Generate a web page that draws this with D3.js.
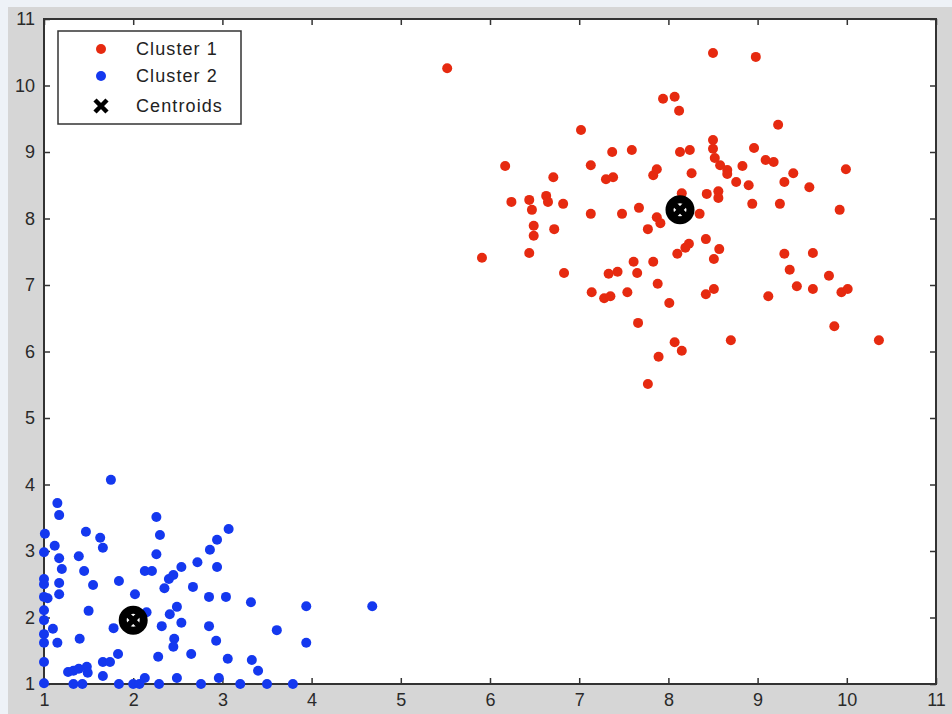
<!DOCTYPE html>
<html>
<head>
<meta charset="utf-8">
<script src="https://cdnjs.cloudflare.com/ajax/libs/d3/7.8.5/d3.min.js"></script>
<style>
  body { margin: 0; background: #eef2f7; }
  svg { display: block; }
</style>
</head>
<body>
<div id="chart"></div>
<script>
// data
var cluster1X = [5.52, 8.50, 8.98, 7.94, 8.07, 8.12, 7.02, 9.23, 8.50, 8.50,
                 7.37, 7.59, 8.13, 8.24, 8.96, 8.52, 8.58, 8.66, 8.66, 9.09,
                 9.18, 8.83, 8.26, 8.76, 8.90, 9.40, 9.30, 9.58, 9.99, 8.15,
                 8.43, 8.56, 8.56, 8.94, 9.25, 9.92, 8.35, 6.17, 7.13, 6.71,
                 7.30, 7.38, 7.83, 7.87, 6.24, 6.44, 6.47, 6.63, 6.65, 6.82,
                 7.13, 7.48, 7.67, 7.87, 7.91, 7.77, 6.49, 6.49, 6.72, 5.91,
                 6.44, 6.83, 7.33, 7.43, 7.61, 7.65, 7.83, 7.88, 7.14, 7.28,
                 7.35, 7.54, 8.01, 8.42, 8.51, 7.66, 8.07, 8.15, 7.89, 8.70,
                 7.77, 8.42, 8.57, 8.51, 8.23, 8.19, 8.10, 9.30, 9.62, 9.36,
                 9.80, 9.44, 9.62, 9.94, 10.01, 9.12, 9.86, 10.36];
var cluster1Y = [10.26, 10.49, 10.43, 9.80, 9.83, 9.62, 9.33, 9.41, 9.18, 9.05,
                 9.00, 9.03, 9.00, 9.03, 9.06, 8.91, 8.80, 8.73, 8.67, 8.88,
                 8.85, 8.79, 8.68, 8.55, 8.50, 8.68, 8.55, 8.47, 8.74, 8.38,
                 8.37, 8.41, 8.31, 8.22, 8.22, 8.13, 8.07, 8.79, 8.80, 8.62,
                 8.59, 8.62, 8.65, 8.74, 8.25, 8.28, 8.13, 8.34, 8.25, 8.22,
                 8.07, 8.07, 8.16, 8.02, 7.93, 7.84, 7.89, 7.74, 7.84, 7.41,
                 7.48, 7.18, 7.17, 7.20, 7.35, 7.18, 7.35, 7.02, 6.89, 6.80,
                 6.83, 6.89, 6.73, 6.86, 6.94, 6.43, 6.14, 6.01, 5.92, 6.17,
                 5.51, 7.69, 7.54, 7.39, 7.62, 7.56, 7.47, 7.47, 7.48, 7.23,
                 7.14, 6.98, 6.94, 6.89, 6.94, 6.83, 6.38, 6.17];

var cluster2X = [1.75, 1.15, 1.17, 1.01, 1.47, 1.63, 1.66, 1.12, 1.00, 1.17,
                 1.39, 1.20, 1.45, 1.00, 1.00, 1.17, 1.55, 1.84, 1.17, 1.00,
                 1.04, 2.02, 1.00, 1.50, 1.00, 1.10, 1.00, 1.78, 1.40, 1.00,
                 1.15, 1.00, 1.27, 1.33, 1.39, 1.48, 1.49, 1.66, 1.66, 1.74,
                 1.83, 1.00, 1.33, 1.43, 1.84, 2.00, 2.07, 2.13, 2.29, 2.15,
                 2.26, 2.30, 2.26, 2.13, 2.21, 2.35, 2.40, 2.45, 2.54, 2.72,
                 2.67, 2.85, 3.04, 2.86, 2.94, 3.07, 2.94, 2.49, 2.41, 2.32,
                 2.54, 2.85, 2.46, 2.45, 2.93, 2.28, 2.65, 3.06, 3.33, 3.40,
                 3.32, 3.94, 3.61, 3.94, 4.68, 2.49, 2.76, 2.96, 3.20, 3.50,
                 3.79];
var cluster2Y = [4.07, 3.72, 3.54, 3.26, 3.29, 3.20, 3.05, 3.08, 2.98, 2.89,
                 2.92, 2.73, 2.70, 2.58, 2.50, 2.52, 2.49, 2.55, 2.35, 2.31,
                 2.29, 2.35, 2.11, 2.10, 1.96, 1.83, 1.75, 1.84, 1.68, 1.62,
                 1.62, 1.33, 1.18, 1.20, 1.23, 1.26, 1.17, 1.12, 1.33, 1.33,
                 1.45, 1.01, 1.00, 1.00, 1.00, 1.00, 1.00, 1.09, 1.00, 2.08,
                 3.51, 3.24, 2.95, 2.70, 2.70, 2.44, 2.58, 2.64, 2.76, 2.83,
                 2.46, 2.31, 2.31, 3.02, 3.17, 3.33, 2.76, 2.16, 2.05, 1.87,
                 1.92, 1.87, 1.68, 1.56, 1.65, 1.41, 1.45, 1.38, 1.36, 1.20,
                 2.23, 2.17, 1.81, 1.62, 2.17, 1.09, 1.00, 1.09, 1.00, 1.00,
                 1.00];

var centroidX = [8.13, 2.00];
var centroidY = [8.13, 1.96];

var tickValues = [1, 2, 3, 4, 5, 6, 7, 8, 9, 10, 11];
var legendLabels = ["Cluster 1", "Cluster 2", "Centroids"];

var width = 952;
var height = 714;
var red = "#e62a10";
var blue = "#1438ef";

var svg = d3.select("#chart")
            .append("svg")
            .attr("width", width)
            .attr("height", height);

// figure background (grey panel)
svg.append("rect")
   .attr("x", 8)
   .attr("y", 7)
   .attr("width", width - 8)
   .attr("height", height - 7)
   .attr("fill", "#d6d6d6");

var x = d3.scaleLinear().domain([1, 11]).range([44, 936]);
var y = d3.scaleLinear().domain([1, 11]).range([684, 19]);

// plot area
svg.append("rect")
   .attr("x", x(1))
   .attr("y", y(11))
   .attr("width", x(11) - x(1))
   .attr("height", y(1) - y(11))
   .attr("fill", "white");

function styleAxis(g) {
    g.select(".domain").remove();
    g.selectAll(".tick line").attr("stroke", "#333").attr("stroke-width", 1.5);
    g.selectAll(".tick text")
     .attr("fill", "#2a2a2a")
     .style("font-family", "'Liberation Sans', Arial, sans-serif")
     .style("font-size", "18px");
}

svg.append("g")
   .attr("transform", "translate(0," + y(1) + ")")
   .call(d3.axisBottom(x).tickValues(tickValues).tickSize(-6).tickPadding(9).tickFormat(d3.format("d")))
   .call(styleAxis);
svg.append("g")
   .attr("transform", "translate(" + x(1) + ",0)")
   .call(d3.axisLeft(y).tickValues(tickValues).tickSize(-6).tickPadding(9).tickFormat(d3.format("d")))
   .call(styleAxis);
svg.append("g")
   .attr("transform", "translate(0," + y(11) + ")")
   .call(d3.axisTop(x).tickValues(tickValues).tickSize(-6).tickFormat(""))
   .call(styleAxis);
svg.append("g")
   .attr("transform", "translate(" + x(11) + ",0)")
   .call(d3.axisRight(y).tickValues(tickValues).tickSize(-6).tickFormat(""))
   .call(styleAxis);

// axes box
svg.append("rect")
   .attr("x", x(1))
   .attr("y", y(11))
   .attr("width", x(11) - x(1))
   .attr("height", y(1) - y(11))
   .attr("fill", "none")
   .attr("stroke", "#333")
   .attr("stroke-width", 2);

// points
svg.append("g").selectAll("circle")
   .data(d3.range(cluster1X.length))
   .enter().append("circle")
   .attr("cx", function(i) { return x(cluster1X[i]); })
   .attr("cy", function(i) { return y(cluster1Y[i]); })
   .attr("r", 5)
   .attr("fill", red);

svg.append("g").selectAll("circle")
   .data(d3.range(cluster2X.length))
   .enter().append("circle")
   .attr("cx", function(i) { return x(cluster2X[i]); })
   .attr("cy", function(i) { return y(cluster2Y[i]); })
   .attr("r", 5)
   .attr("fill", blue);

// centroids: thick o + x, nearly a solid blob like the original
var cg = svg.append("g").selectAll("g")
   .data(d3.range(centroidX.length))
   .enter().append("g")
   .attr("transform", function(i) { return "translate(" + x(centroidX[i]) + "," + y(centroidY[i]) + ")"; });
cg.append("circle")
  .attr("r", 10.5)
  .attr("fill", "none")
  .attr("stroke", "black")
  .attr("stroke-width", 8);
cg.append("path")
  .attr("d", "M-7,-7L7,7M-7,7L7,-7")
  .attr("stroke", "black")
  .attr("stroke-width", 5.5);

// legend
var legend = svg.append("g");
legend.append("rect")
      .attr("x", 58)
      .attr("y", 31)
      .attr("width", 183)
      .attr("height", 93)
      .attr("fill", "white")
      .attr("stroke", "#333")
      .attr("stroke-width", 1.5);
var rowY = [49, 76, 106];
legend.append("circle").attr("cx", 101).attr("cy", rowY[0]).attr("r", 5).attr("fill", red);
legend.append("circle").attr("cx", 101).attr("cy", rowY[1]).attr("r", 5).attr("fill", blue);
legend.append("path")
      .attr("d", "M95,100L107,112M95,112L107,100")
      .attr("stroke", "black")
      .attr("stroke-width", 4.5);
legend.selectAll("text")
      .data(legendLabels)
      .enter().append("text")
      .text(function(d) { return d; })
      .attr("x", 136)
      .attr("y", function(d, i) { return rowY[i]; })
      .attr("dy", "0.36em")
      .attr("fill", "#222")
      .style("font-family", "'Liberation Sans', Arial, sans-serif")
      .style("font-size", "18px")
      .style("letter-spacing", "1.1px");
</script>
</body>
</html>
